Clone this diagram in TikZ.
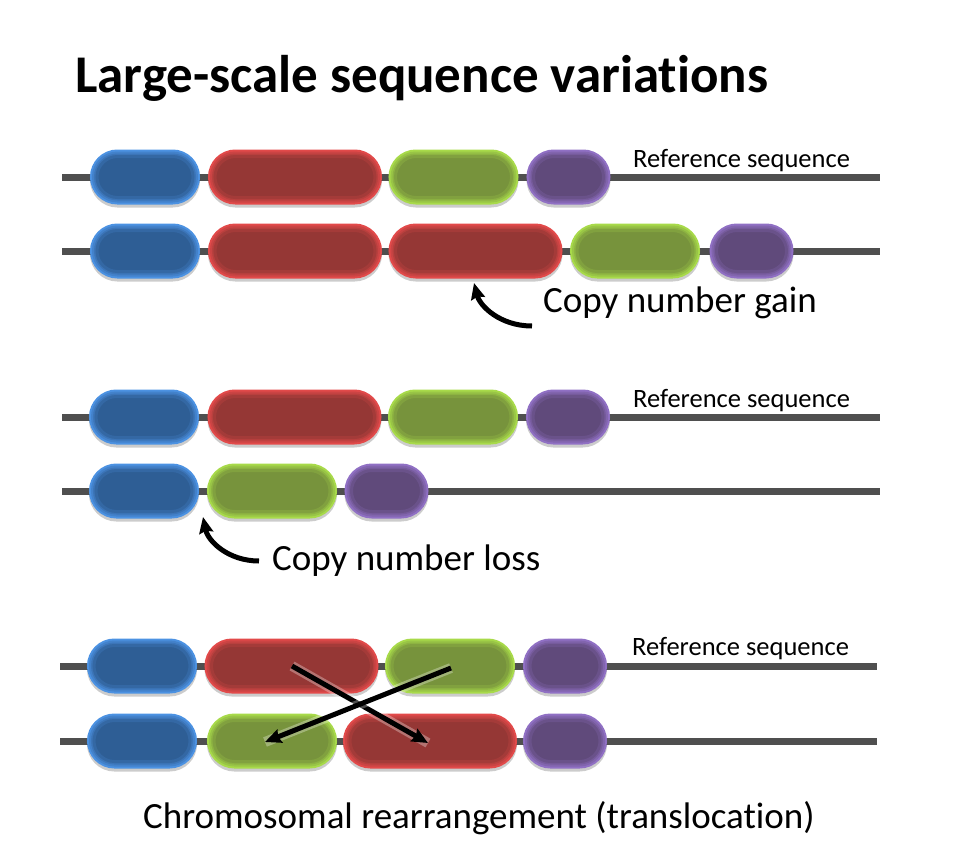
\documentclass[tikz,border=0pt]{standalone}
\usepackage{fontspec}
\setmainfont{Carlito}[Ligatures={NoCommon,NoContextual}]
\usetikzlibrary{shapes.misc,shadows,arrows.meta}
\definecolor{bluein}{HTML}{2E5E95}
\definecolor{blueedge}{HTML}{4C92E2}
\definecolor{redin}{HTML}{953735}
\definecolor{rededge}{HTML}{E24A4A}
\definecolor{greenin}{HTML}{77933C}
\definecolor{greenedge}{HTML}{A8DA4A}
\definecolor{purplein}{HTML}{604A7B}
\definecolor{purpleedge}{HTML}{9070C4}
\definecolor{linegray}{HTML}{4F4F4F}
\tikzset{
  pill/.style 2 args={rounded rectangle, inner sep=0pt, minimum height=41pt,
    drop shadow={fill=black, draw=black, line width=14pt, opacity=0.2, shadow xshift=0pt, shadow yshift=-3pt},
    preaction={draw=#2, line width=14pt},
    preaction={draw=#1!30!#2, line width=10pt},
    preaction={draw=#1!55!#2, line width=6pt},
    fill=#1, draw=#1!80!#2, line width=3pt},
  bluepill/.style={pill={bluein}{blueedge}, minimum width=96pt},
  redpill/.style={pill={redin}{rededge}, minimum width=160pt},
  greenpill/.style={pill={greenin}{greenedge}, minimum width=116pt},
  purplepill/.style={pill={purplein}{purpleedge}, minimum width=70pt},
  backbone/.style={draw=linegray, line width=7pt},
  reftext/.style={anchor=base west, inner sep=0pt, font=\fontsize{26.5}{30}\selectfont},
  bigtext/.style={anchor=base west, inner sep=0pt, font=\fontsize{37}{42}\selectfont},
  pointer/.style={draw=black, line width=5pt, -{Stealth[length=16pt, width=14pt, inset=2pt]}},
  crossing/.style={pointer, preaction={draw=white, line width=10pt, opacity=0.3, -}}
}
\begin{document}
\begin{tikzpicture}[x=1pt, y=-1pt]
\useasboundingbox (0,0) rectangle (960,864);

\node[anchor=base west, inner sep=0pt, font=\bfseries\fontsize{53}{60}\selectfont] (title) at (75,93) {Large-scale sequence variations};

\coordinate (l1a) at (62,177);
\coordinate (l1b) at (880,177);
\coordinate (l2a) at (62,251);
\coordinate (l2b) at (880,251);
\coordinate (l3a) at (62,417);
\coordinate (l3b) at (880,417);
\coordinate (l4a) at (62,491);
\coordinate (l4b) at (880,491);
\coordinate (l5a) at (60,666);
\coordinate (l5b) at (877,666);
\coordinate (l6a) at (60,741);
\coordinate (l6b) at (877,741);
\draw[backbone] (l1a) -- (l1b);
\draw[backbone] (l2a) -- (l2b);
\draw[backbone] (l3a) -- (l3b);
\draw[backbone] (l4a) -- (l4b);
\draw[backbone] (l5a) -- (l5b);
\draw[backbone] (l6a) -- (l6b);

\node[bluepill] (b1) at (145,177) {};
\node[redpill] (r1) at (295,177) {};
\node[greenpill] (g1) at (453.5,177) {};
\node[purplepill] (p1) at (568.5,177) {};
\node[reftext] (ref1) at (633,167) {Reference sequence};

\node[bluepill] (b2) at (145,251) {};
\node[redpill] (r2a) at (295,251) {};
\node[redpill] (r2b) at (475.5,251) {};
\node[greenpill] (g2) at (635,251) {};
\node[purplepill] (p2) at (751.5,251) {};
\node[bigtext] (gain) at (543,312) {Copy number gain};
\coordinate (gaintail) at (532,326);
\coordinate (gaintip) at (474,283);
\draw[pointer] (gaintail) .. controls (500,326) and (480,306) .. (gaintip);

\node[bluepill] (b3) at (144,417) {};
\node[redpill] (r3) at (294.5,417) {};
\node[greenpill] (g3) at (453,417) {};
\node[purplepill] (p3) at (568,417) {};
\node[reftext] (ref3) at (633,407) {Reference sequence};

\node[bluepill] (b4) at (144,491) {};
\node[greenpill] (g4) at (272,491) {};
\node[purplepill] (p4) at (386.5,491) {};
\node[bigtext] (loss) at (272,570) {Copy number loss};
\coordinate (losstail) at (259,561);
\coordinate (losstip) at (203,517);
\draw[pointer] (losstail) .. controls (228,561) and (208,541) .. (losstip);

\node[bluepill] (b5) at (142,666) {};
\node[redpill] (r5) at (291.5,666) {};
\node[greenpill] (g5) at (450,666) {};
\node[purplepill] (p5) at (565,666) {};
\node[reftext] (ref5) at (632,655) {Reference sequence};

\node[bluepill] (b6) at (142,741) {};
\node[greenpill] (g6) at (272,741) {};
\node[redpill] (r6) at (430,741) {};
\node[purplepill] (p6) at (565,741) {};
\coordinate (redfrom) at (292,666);
\coordinate (redto) at (428,743);
\coordinate (greenfrom) at (451,668);
\coordinate (greento) at (265,742);
\draw[crossing] (redfrom) -- (redto);
\draw[crossing] (greenfrom) -- (greento);
\node[bigtext] (caption) at (143,828) {Chromosomal rearrangement (translocation)};
\end{tikzpicture}
\end{document}
